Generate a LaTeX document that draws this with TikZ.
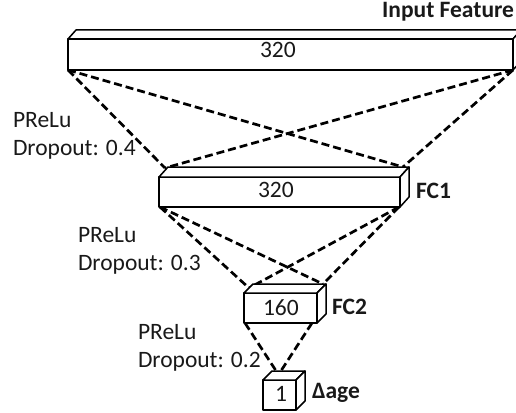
\documentclass[tikz,border=0pt]{standalone}
\usepackage{fontspec}
\setmainfont{Carlito}
\pgfdeclarelayer{background}
\pgfsetlayers{background,main}
% cuboid: #1 name, #2 centre of front face, #3 width, #4 height, #5/#6 depth offset (right/up)
\newcommand\drawblock[6]{%
  \node[face, minimum width=#3, minimum height=#4] (#1) at #2 {};
  \draw[face] (#1.north west) -- ++(#5,-#6) -- ([shift={(#5,-#6)}]#1.north east)
    -- (#1.north east) -- cycle;
  \draw[face] (#1.north east) -- ++(#5,-#6) -- ([shift={(#5,-#6)}]#1.south east)
    -- (#1.south east) -- cycle;
}
\begin{document}
\begin{tikzpicture}[x=1pt,y=-1pt,
  face/.style={draw=black, line width=1.5pt, fill=white, inner sep=0pt, outer sep=0pt, line join=round},
  link/.style={draw=black, line width=2.7pt, dash pattern=on 8pt off 4pt},
  txt/.style={font=\fontsize{23.5}{28}\selectfont, text=black!90, inner sep=0pt, outer sep=0pt, anchor=base west},
  tag/.style={txt, font=\fontsize{23.5}{28}\selectfont\bfseries}]
\useasboundingbox (0,0) rectangle (516,412);

% layer blocks
\drawblock{inp}{(290.5,54.5)}{445}{31}{8}{9}
\drawblock{fc1}{(279.5,192)}{241}{30}{9}{10}
\drawblock{fc2}{(280.5,308)}{73}{30}{9}{9}
\drawblock{out}{(279.5,395)}{33}{30}{9}{9}

% sizes
\node[txt] (n-inp) at (260,58) {320};
\node[txt] (n-fc1) at (258,197) {320};
\node[txt] (n-fc2) at (263,315) {160};
\node[txt] (n-out) at (275,401) {1};

% block names
\node[tag, anchor=base east] (t-inp) at (514,18) {Input Feature};
\node[tag] (t-fc1) at (416,198) {FC1};
\node[tag] (t-fc2) at (332,314) {FC2};
\node[tag] (t-out) at (312,398) {Δage};

% activation / dropout notes
\node[txt] (a1) at (13,127) {PReLu};
\node[txt] (d1) at (13,155) {Dropout: 0.4};
\node[txt] (a2) at (78,242) {PReLu};
\node[txt] (d2) at (78,270) {Dropout: 0.3};
\node[txt] (a3) at (138,339) {PReLu};
\node[txt] (d3) at (138,367) {Dropout: 0.2};

% attachment points of the connections
\coordinate (inp-bl) at (inp.south west);
\coordinate (inp-br) at (inp.south east);
\coordinate (fc1-tl) at ([shift={(6,-9)}]fc1.north west);
\coordinate (fc1-tr) at ([shift={(3,-10)}]fc1.north east);
\coordinate (fc1-bl) at ([shift={(1,0)}]fc1.south west);
\coordinate (fc1-br) at ([shift={(-1,0)}]fc1.south east);
\coordinate (fc2-tl) at ([shift={(5,-5)}]fc2.north west);
\coordinate (fc2-tr) at ([shift={(6,-9)}]fc2.north east);
\coordinate (fc2-bl) at ([shift={(1,0)}]fc2.south west);
\coordinate (fc2-br) at ([shift={(-5,0)}]fc2.south east);
\coordinate (out-tl) at ([shift={(14,-3)}]out.north west);
\coordinate (out-tr) at ([shift={(19,0)}]out.north west);

\begin{pgfonlayer}{background}
  \draw[link] (inp-bl) -- (fc1-tl);
  \draw[link] (inp-bl) -- (fc1-tr);
  \draw[link] (inp-br) -- (fc1-tl);
  \draw[link] (inp-br) -- (fc1-tr);
  \draw[link] (fc1-bl) -- (fc2-tl);
  \draw[link] (fc1-bl) -- (fc2-tr);
  \draw[link] (fc1-br) -- (fc2-tl);
  \draw[link] (fc1-br) -- (fc2-tr);
  \draw[link] (fc2-bl) -- (out-tr);
  \draw[link] (fc2-br) -- (out-tl);
\end{pgfonlayer}
\end{tikzpicture}
\end{document}
